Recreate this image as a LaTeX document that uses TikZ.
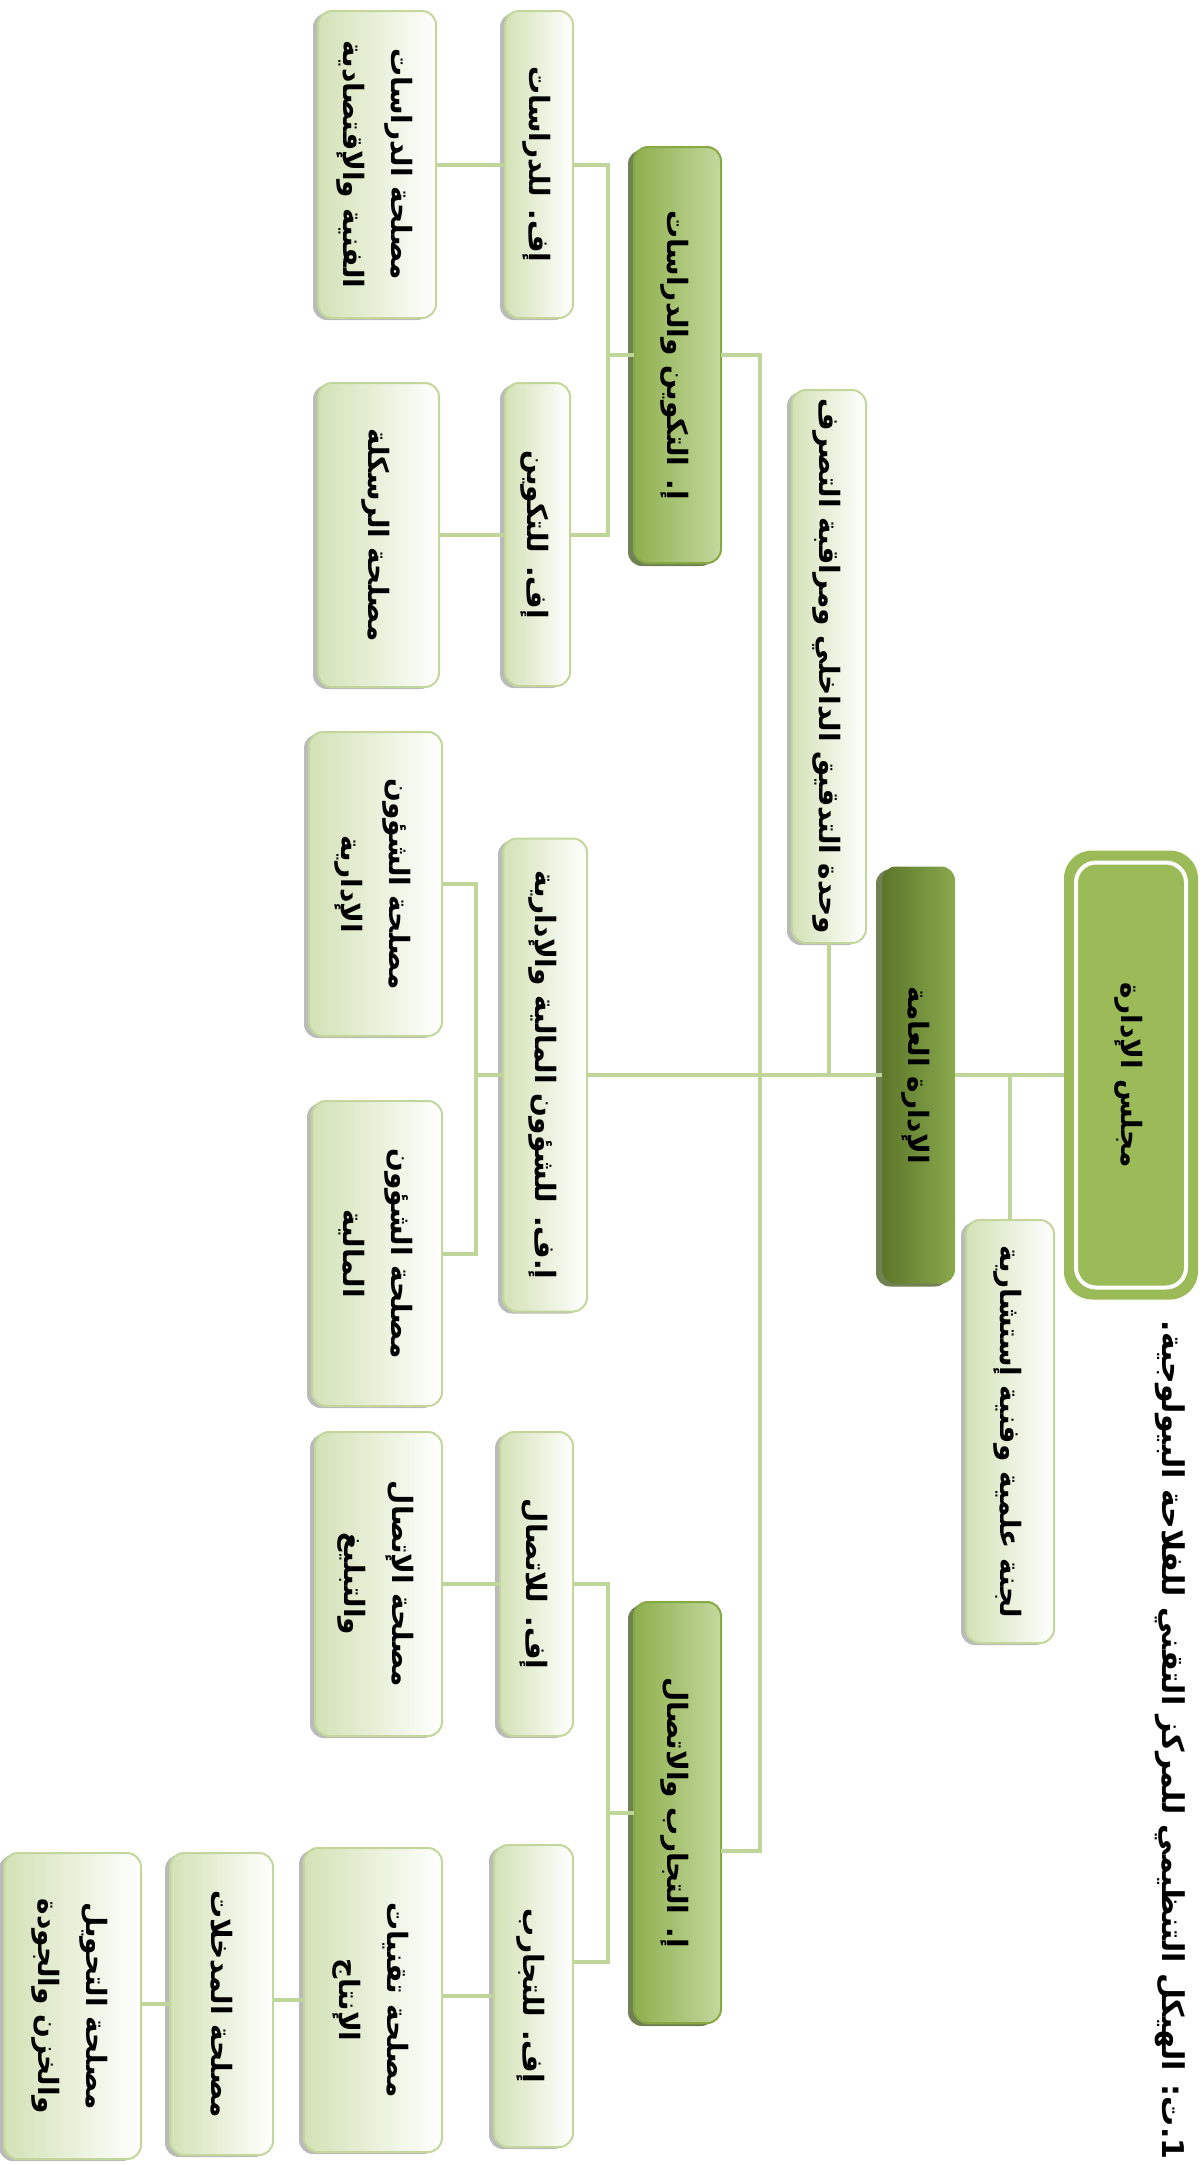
\documentclass[tikz,border=0pt]{standalone}
\usepackage{fontspec}
\usepackage{graphicx}
\usetikzlibrary{shadows}
\TeXXeTstate=1
\newfontfamily\arabicfont[Script=Arabic]{DejaVu Sans}
\definecolor{lineg}{HTML}{C0D59A}
\definecolor{lboxL}{HTML}{D3E2B6}
\definecolor{lboxB}{HTML}{C3D69B}
\definecolor{midL}{HTML}{8EB04D}
\definecolor{midR}{HTML}{C4D89E}
\definecolor{midB}{HTML}{86A845}
\definecolor{gmL}{HTML}{5B7629}
\definecolor{gmR}{HTML}{8AA94D}
\definecolor{boardG}{HTML}{9BBB59}
\definecolor{darkolive}{HTML}{4F6228}
\newcommand\rl[1]{\beginR #1\endR}
\newcommand\rtxt[1]{\rotatebox{-90}{\arabicfont\bfseries\fontsize{14}{24}\selectfont\begin{tabular}{@{}c@{}}#1\end{tabular}}}
\tikzset{
  lbox/.style={draw=lboxB, line width=1pt, rounded corners=7pt, left color=lboxL, right color=white, inner sep=0pt, outer sep=0pt,
    drop shadow={shadow xshift=-2.5pt, shadow yshift=-1pt, fill=black!45, opacity=0.6}},
  mbox/.style={draw=midB, line width=1pt, rounded corners=7pt, left color=midL, right color=midR, inner sep=0pt, outer sep=0pt,
    drop shadow={shadow xshift=-3pt, shadow yshift=-1.5pt, fill=darkolive, opacity=0.8}},
  gmbox/.style={draw=none, rounded corners=7pt, left color=gmL, right color=gmR, inner sep=0pt, outer sep=0pt,
    drop shadow={shadow xshift=-3pt, shadow yshift=-1.5pt, fill=darkolive, opacity=0.8}},
  boardbox/.style={fill=boardG, draw=none, rounded corners=14pt, inner sep=0pt, outer sep=0pt},
  conn/.style={draw=lineg, line width=2pt}
}
\begin{document}
\begin{tikzpicture}[x=0.5pt,y=-0.5pt]
\useasboundingbox (0,0) rectangle (1203,2165);
\coordinate (busx) at (760,0);
\coordinate (bra) at (608,0);
\coordinate (brb) at (476,0);

% nodes
\node[boardbox, minimum width=67pt, minimum height=224.5pt] (board) at (1131,1075) {\rtxt{\rl{مجلس الإدارة}}};
\draw[white, line width=2pt, rounded corners=10pt] ([xshift=6pt,yshift=-6pt]board.north west) rectangle ([xshift=-6pt,yshift=6pt]board.south east);
\node[gmbox, minimum width=36.5pt, minimum height=208.5pt] (gm) at (918.5,1075) {\rtxt{\rl{الإدارة العامة}}};
\node[lbox, minimum width=44pt, minimum height=211.5pt] (lajna) at (1010,1431.5) {\rtxt{\rl{لجنة علمية وفنية إستشارية}}};
\node[lbox, minimum width=37pt, minimum height=276.5pt] (audit) at (829,666.5) {\rtxt{\rl{وحدة التدقيق الداخلي ومراقبة التصرف}}};
\node[mbox, minimum width=43.5pt, minimum height=208pt] (takwin) at (677.5,355) {\rtxt{\rl{إ. التكوين والدراسات}}};
\node[mbox, minimum width=43.5pt, minimum height=210.5pt] (tajarib) at (677.5,1812.5) {\rtxt{\rl{إ. التجارب والاتصال}}};
\node[lbox, minimum width=42pt, minimum height=236.5pt] (mal) at (545,1075) {\rtxt{\rl{إ.ف. للشؤون المالية والإدارية}}};
\node[lbox, minimum width=34pt, minimum height=153.5pt] (dirasat) at (539,164.5) {\rtxt{\rl{إف. للدراسات}}};
\node[lbox, minimum width=32.5pt, minimum height=151.5pt] (takwinf) at (537.5,534.5) {\rtxt{\rl{إف. للتكوين}}};
\node[lbox, minimum width=36.5pt, minimum height=152pt] (ittisalf) at (536.5,1584) {\rtxt{\rl{إف. للاتصال}}};
\node[lbox, minimum width=39.5pt, minimum height=151pt] (tajaribf) at (533.5,1996) {\rtxt{\rl{إف. للتجارب}}};
\node[lbox, minimum width=59pt, minimum height=153.5pt] (sdir) at (377,164.5) {\rtxt{\rl{مصلحة الدراسات}\\\rl{الفنية والإقتصادية}}};
\node[lbox, minimum width=60.5pt, minimum height=152pt] (srask) at (378.5,535) {\rtxt{\rl{مصلحة الرسكلة}}};
\node[lbox, minimum width=66.5pt, minimum height=152pt] (sidar) at (375.5,884) {\rtxt{\rl{مصلحة الشؤون}\\\rl{الإدارية}}};
\node[lbox, minimum width=65pt, minimum height=152.5pt] (smal) at (377,1253.5) {\rtxt{\rl{مصلحة الشؤون}\\\rl{المالية}}};
\node[lbox, minimum width=63.5pt, minimum height=152pt] (sitt) at (378.5,1584) {\rtxt{\rl{مصلحة الإتصال}\\\rl{والتبليغ}}};
\node[lbox, minimum width=69pt, minimum height=152pt] (staq) at (373,2000) {\rtxt{\rl{مصلحة تقنيات}\\\rl{الإنتاج}}};
\node[lbox, minimum width=51.5pt, minimum height=151pt] (smud) at (221.5,2004) {\rtxt{\rl{مصلحة المدخلات}}};
\node[lbox, minimum width=68.5pt, minimum height=153pt] (stah) at (72.5,2006) {\rtxt{\rl{مصلحة التحويل}\\\rl{والخزن والجودة}}};
\node (cap) at (1170,1740) {\rotatebox{-90}{\arabicfont\bfseries\fontsize{15}{18}\selectfont\rl{1.ت: الهيكل التنظيمي للمركز التقني للفلاحة البيولوجية.}}};

% connectors
\draw[conn] (board.west) -- (gm.east);
\draw[conn] (gm.west) -- (mal.east);
\draw[conn] (takwin.east) -- (takwin.east -| busx) -- ([yshift=-19pt]tajarib.east -| busx) -- ([yshift=-19pt]tajarib.east);
\draw[conn] (audit.south) -- (audit.south |- gm.west);
\draw[conn] (lajna.north) -- (lajna.north |- board.west);
\draw[conn] (takwin.west) -- (takwin.west -| bra);
\draw[conn] (dirasat.east) -- (dirasat.east -| bra) -- (takwinf.east -| bra) -- (takwinf.east);
\draw[conn] (dirasat.west) -- (dirasat.west -| sdir.east);
\draw[conn] (takwinf.west) -- (takwinf.west -| srask.east);
\draw[conn] (mal.west) -- (mal.west -| brb);
\draw[conn] (sidar.east) -- (sidar.east -| brb) -- (smal.east -| brb) -- (smal.east);
\draw[conn] (tajarib.west) -- (tajarib.west -| bra);
\draw[conn] (ittisalf.east) -- (ittisalf.east -| bra) -- ([yshift=17pt]tajaribf.east -| bra) -- ([yshift=17pt]tajaribf.east);
\draw[conn] (ittisalf.west) -- (ittisalf.west -| sitt.east);
\draw[conn] (tajaribf.west) -- (tajaribf.west -| staq.east);
\draw[conn] (staq.west) -- (staq.west -| smud.east);
\draw[conn] (smud.west) -- (smud.west -| stah.east);
\end{tikzpicture}
\end{document}
